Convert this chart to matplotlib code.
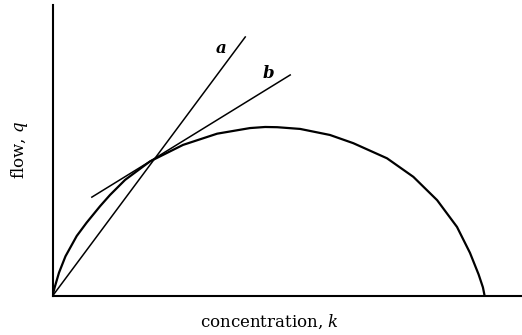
import matplotlib
matplotlib.use("Agg")
import matplotlib.pyplot as plt

matplotlib.rcParams['font.family'] = ['DejaVu Serif']
matplotlib.rcParams['mathtext.fontset'] = 'dejavuserif'

# flow-concentration curve
k_curve = [0, 0.5, 1.5, 3.0, 5.6, 7.9, 11.0, 13.3, 16.8, 22.6, 30.2, 38.1, 45.7,
           49.2, 52.0, 57.3, 64.2, 69.6, 77.4, 83.5, 89.0, 93.6, 96.6, 98.6, 99.6, 100.0]
q_curve = [0, 2.0, 5.4, 9.2, 13.9, 17.0, 20.8, 23.4, 26.9, 31.2, 35.0, 37.6, 38.9,
           39.15, 39.1, 38.7, 37.3, 35.4, 31.9, 27.6, 22.2, 16.0, 10.0, 5.0, 2.0, 0]

# line a (chord from origin) and line b (tangent)
k_a = [0, 44.6]
q_a = [0, 60.0]
k_b = [9.1, 55.0]
q_b = [22.9, 51.2]

fig = plt.figure(figsize=(5.22, 3.35), dpi=100)
ax = fig.add_axes([0.1006, 0.1164, 0.8974, 0.8686])

ax.plot(k_curve, q_curve, color='black', lw=1.6, solid_joinstyle='round')
ax.plot(k_a, q_a, color='black', lw=1.1)
ax.plot(k_b, q_b, color='black', lw=1.1)

ax.text(39.0, 57.4, 'a', fontsize=12, style='italic', fontweight='bold',
        ha='center', va='center')
ax.text(49.9, 51.6, 'b', fontsize=12, style='italic', fontweight='bold',
        ha='center', va='center')

ax.set_xlim(0, 108.4)
ax.set_ylim(0, 67.4)
ax.spines['top'].set_visible(False)
ax.spines['right'].set_visible(False)
ax.spines['left'].set_linewidth(1.5)
ax.spines['bottom'].set_linewidth(1.5)
ax.set_xticks([])
ax.set_yticks([])

fig.text(0.517, 0.039, 'concentration, $k$', fontsize=12, ha='center', va='center')
fig.text(0.038, 0.552, 'flow, $q$', fontsize=12, ha='center', va='center',
         rotation=90)

fig.savefig('out.png', dpi=100)
